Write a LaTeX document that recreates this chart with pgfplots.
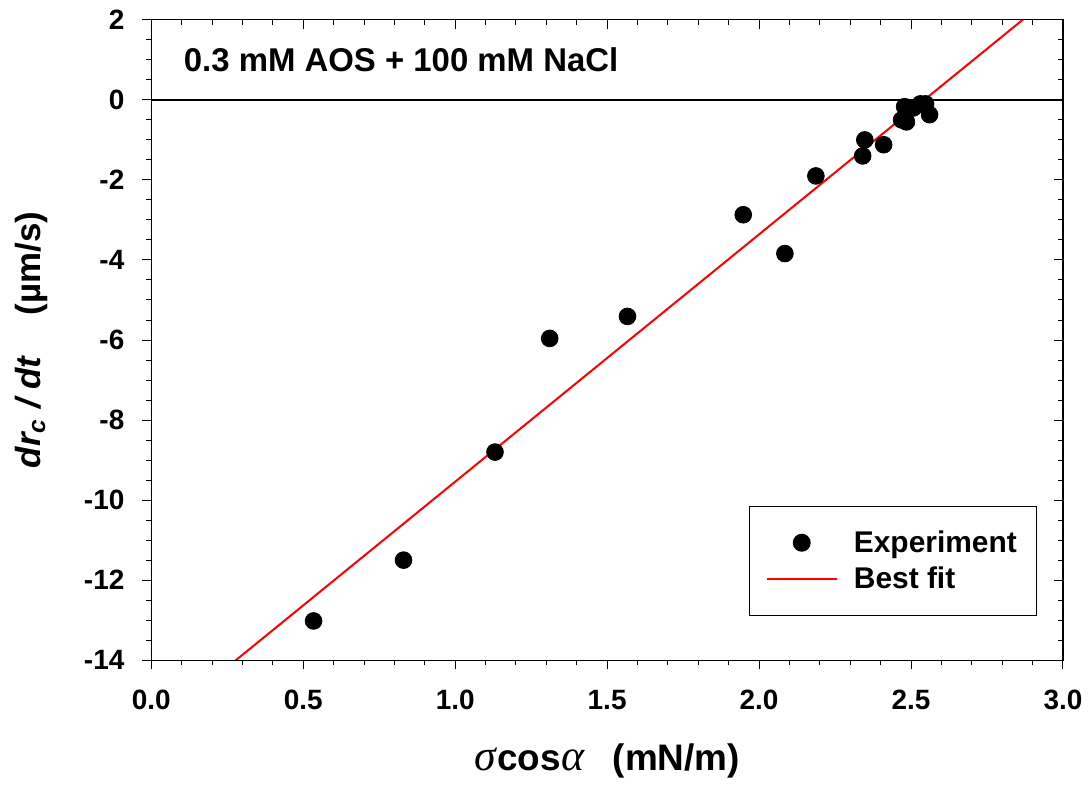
\documentclass[border=0pt]{standalone}
\usepackage{fontspec}
\setmainfont{Liberation Sans}
\newfontfamily\grk{Liberation Serif}
\usepackage{pgfplots}
\usepackage{pgfplotstable}
\pgfplotsset{compat=1.18}

% measured contact-line velocity vs sigma cos(alpha)
\pgfplotstableread{
x     y
0.534 -13.02
0.830 -11.50
1.131 -8.80
1.311 -5.96
1.567 -5.41
1.948 -2.87
2.085 -3.84
2.187 -1.90
2.341 -1.40
2.348 -1.00
2.410 -1.12
2.469 -0.50
2.479 -0.17
2.485 -0.55
2.508 -0.20
2.531 -0.10
2.548 -0.10
2.561 -0.37
}\expdata

\begin{document}
\begin{tikzpicture}
\pgfplotsset{
  base/.style={
    width=457pt, height=321pt, scale only axis,
    xmin=0, xmax=3, ymin=-14, ymax=2,
    xtick={0,0.5,...,3}, ytick={-14,-12,...,2},
    minor x tick num=4, minor y tick num=3,
    axis line style={line width=0.6pt},
    major tick length=4.5pt, minor tick length=2.5pt,
    every tick/.style={black, line width=0.5pt},
  }
}
\begin{axis}[base,
  xtick pos=left, ytick pos=left, tick align=outside,
  /pgf/number format/assume math mode=true,
  ticklabel style={font=\fontsize{14}{16}\selectfont\bfseries},
  xticklabel style={yshift=-7pt, /pgf/number format/.cd, fixed, fixed zerofill, precision=1},
  yticklabel style={xshift=-5.5pt, /pgf/number format/fixed},
  xlabel={{\grk\itshape\fontsize{22}{22}\selectfont σ}\textbf{cos}{\grk\itshape\fontsize{22}{22}\selectfont α}\hspace{14pt}\textbf{(mN/m)}},
  ylabel={\textbf{\textit{dr\textsubscript{c} / dt}}\hspace{20pt}\textbf{(µm/s)}},
  xlabel style={font=\fontsize{18.5}{21}\selectfont, at={(axis description cs:0.5,-0.157)}, anchor=center},
  ylabel style={font=\fontsize{17.5}{20}\selectfont, at={(axis description cs:-0.132,0.5)}, anchor=center},
  legend image code/.code={\draw[mark repeat=2,mark phase=2,#1] plot coordinates {(0cm,0cm) (0.62cm,0cm) (1.24cm,0cm)};},
  legend style={at={(0.972,0.241)}, anchor=north east, draw=black, line width=0.6pt,
    font=\fontsize{15}{18}\selectfont\bfseries, inner xsep=8pt, inner ysep=10pt,
    row sep=2pt, legend cell align=left,
    /tikz/every odd column/.append style={column sep=6pt}},
]
\addplot[black, line width=1pt, forget plot] coordinates {(0,0) (3,0)};
\addplot[only marks, mark=*, mark size=4.2pt, black] table {\expdata};
\addlegendentry{Experiment}
\addplot[red, line width=1pt] coordinates {(0,-15.72) (3,2.82)};
\addlegendentry{Best fit}
\node[anchor=west, font=\fontsize{16.5}{20}\selectfont\bfseries]
  at (axis description cs:0.028,0.938) {0.3 mM AOS + 100 mM NaCl};
% page extent as in the reference
\coordinate (pagebl) at (axis description cs:-0.166,-0.199);
\coordinate (pagetr) at (axis description cs:1.024,1.031);
\end{axis}
\begin{axis}[base,
  xtick pos=right, ytick pos=right, tick align=inside,
  xticklabels={}, yticklabels={},
]
\end{axis}
\path (pagebl) rectangle (pagetr);
\end{tikzpicture}
\end{document}
